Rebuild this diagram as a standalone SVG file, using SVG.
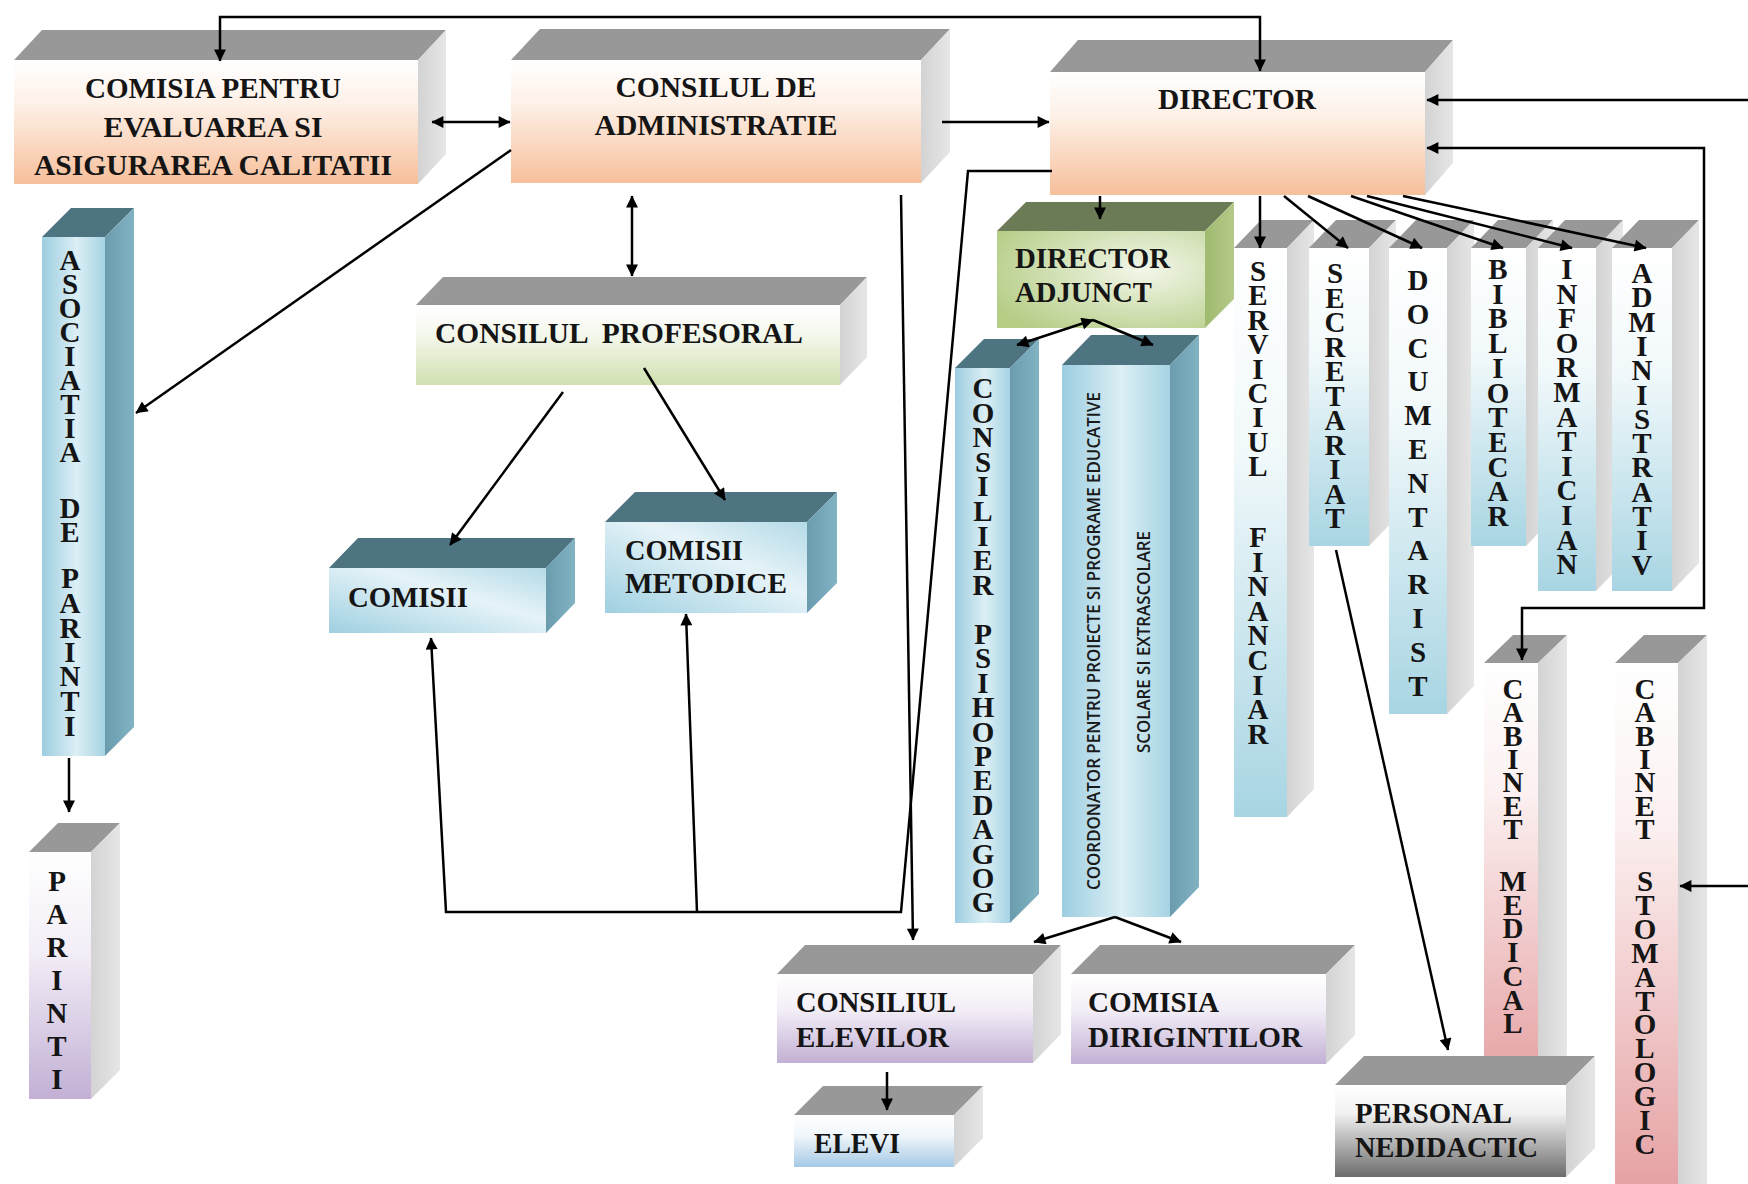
<svg xmlns="http://www.w3.org/2000/svg" width="1748" height="1184" viewBox="0 0 1748 1184">
<defs>
<linearGradient id="gPeach" x1="0" y1="0" x2="0" y2="1"><stop offset="0" stop-color="#ffffff"/><stop offset="0.35" stop-color="#fdf1e8"/><stop offset="1" stop-color="#f7bf9b"/></linearGradient>
<linearGradient id="gSide" x1="0" y1="0" x2="1" y2="0"><stop offset="0" stop-color="#d3d3d3"/><stop offset="1" stop-color="#e6e6e6"/></linearGradient>
<linearGradient id="gBlueCol" x1="0" y1="0" x2="0" y2="1"><stop offset="0" stop-color="#ffffff"/><stop offset="0.35" stop-color="#f2f9fb"/><stop offset="1" stop-color="#a8d5e3"/></linearGradient>
<linearGradient id="gTeal" x1="0" y1="0" x2="1" y2="0"><stop offset="0" stop-color="#9ccde0"/><stop offset="0.55" stop-color="#dcEFF5"/><stop offset="1" stop-color="#a6d3e3"/></linearGradient>
<linearGradient id="gTealBox" x1="0" y1="1" x2="1" y2="0"><stop offset="0" stop-color="#9fd0e1"/><stop offset="0.6" stop-color="#e6f3f8"/><stop offset="1" stop-color="#b4dae7"/></linearGradient>
<linearGradient id="gTealSide" x1="0" y1="0" x2="1" y2="0"><stop offset="0" stop-color="#6a9cae"/><stop offset="1" stop-color="#82b3c3"/></linearGradient>
<linearGradient id="gLav" x1="0" y1="0" x2="0" y2="1"><stop offset="0" stop-color="#ffffff"/><stop offset="0.4" stop-color="#f3eef7"/><stop offset="1" stop-color="#c2b0d5"/></linearGradient>
<linearGradient id="gGreen" x1="0" y1="0" x2="0" y2="1"><stop offset="0" stop-color="#ffffff"/><stop offset="0.4" stop-color="#f3f7ea"/><stop offset="1" stop-color="#d0e0b0"/></linearGradient>
<radialGradient id="gAdj" cx="0.7" cy="0.4" r="0.8"><stop offset="0" stop-color="#f3f7ea"/><stop offset="1" stop-color="#b5cd86"/></radialGradient>
<linearGradient id="gAdjSide" x1="0" y1="0" x2="1" y2="0"><stop offset="0" stop-color="#a0ba70"/><stop offset="1" stop-color="#b4ca88"/></linearGradient>
<linearGradient id="gElevi" x1="0" y1="0" x2="0" y2="1"><stop offset="0" stop-color="#ffffff"/><stop offset="0.4" stop-color="#f0f6fb"/><stop offset="1" stop-color="#a5c9e5"/></linearGradient>
<linearGradient id="gGray" x1="0" y1="0" x2="0" y2="1"><stop offset="0" stop-color="#ffffff"/><stop offset="0.3" stop-color="#f2f2f2"/><stop offset="1" stop-color="#6c6c6c"/></linearGradient>
<linearGradient id="gPink" x1="0" y1="0" x2="0" y2="1"><stop offset="0" stop-color="#ffffff"/><stop offset="0.3" stop-color="#fcf1f1"/><stop offset="1" stop-color="#e6a2a4"/></linearGradient>
<marker id="ah" viewBox="0 0 10 10" refX="9.5" refY="5" markerWidth="16" markerHeight="12" markerUnits="userSpaceOnUse" orient="auto-start-reverse"><path d="M0,0 L10,5 L0,10 z" fill="#000"/></marker>
</defs>
<style>
.top{fill:#989898}
.side{fill:url(#gSide)}
.ttop{fill:#4e7482}
.tside{fill:url(#gTealSide)}
.lbl{font-family:"Liberation Serif","DejaVu Serif",serif;font-weight:bold;font-size:29px;fill:#151515}
.c{text-anchor:middle}
.vl{font-family:"Liberation Serif","DejaVu Serif",serif;font-weight:bold;font-size:29px;fill:#151515;text-anchor:middle}
.sans{font-family:"Open Sans","Noto Sans",sans-serif;font-weight:600;font-size:18px;fill:#1a1a1a;text-anchor:middle}
.conn{stroke:#000;stroke-width:2.5;fill:none}
.arr{marker-end:url(#ah)}
.arr2{marker-start:url(#ah);marker-end:url(#ah)}
</style>
<rect width="1748" height="1184" fill="#ffffff"/>

<g id="comisia-calitate">
<polygon class="top" points="14,60 42,30 446,30 418,60"/>
<polygon class="side" points="418,60 446,30 446,154 418,184"/>
<rect x="14" y="60" width="404" height="124" fill="url(#gPeach)"/>
<text class="lbl c" x="213" y="98" textLength="256" lengthAdjust="spacingAndGlyphs">COMISIA PENTRU</text>
<text class="lbl c" x="213" y="137" textLength="219" lengthAdjust="spacingAndGlyphs">EVALUAREA SI</text>
<text class="lbl c" x="213" y="175" textLength="358" lengthAdjust="spacingAndGlyphs">ASIGURAREA CALITATII</text>
</g>

<g id="consiliul-administratie">
<polygon class="top" points="511,60 540,29 950,29 921,60"/>
<polygon class="side" points="921,60 950,29 950,152 921,183"/>
<rect x="511" y="60" width="410" height="123" fill="url(#gPeach)"/>
<text class="lbl c" x="716" y="97" textLength="201" lengthAdjust="spacingAndGlyphs">CONSILUL DE</text>
<text class="lbl c" x="716" y="135" textLength="243" lengthAdjust="spacingAndGlyphs">ADMINISTRATIE</text>
</g>

<g id="director">
<polygon class="top" points="1050,72 1078,40 1453,40 1425,72"/>
<polygon class="side" points="1425,72 1453,40 1453,163 1425,195"/>
<rect x="1050" y="72" width="375" height="123" fill="url(#gPeach)"/>
<text class="lbl c" x="1237" y="109" textLength="158" lengthAdjust="spacingAndGlyphs">DIRECTOR</text>
</g>

<g id="consiliul-profesoral">
<polygon class="top" points="416,305 443,277 867,277 840,305"/>
<polygon class="side" points="840,305 867,277 867,357 840,385"/>
<rect x="416" y="305" width="424" height="80" fill="url(#gGreen)"/>
<text class="lbl c" x="619" y="343" textLength="368" lengthAdjust="spacingAndGlyphs" xml:space="preserve">CONSILUL  PROFESORAL</text>
</g>

<g id="comisii">
<polygon class="ttop" points="329,568 358,538 575,538 546,568"/>
<polygon class="tside" points="546,568 575,538 575,603 546,633"/>
<rect x="329" y="568" width="217" height="65" fill="url(#gTealBox)"/>
<text class="lbl" x="348" y="607" textLength="120" lengthAdjust="spacingAndGlyphs">COMISII</text>
</g>

<g id="comisii-metodice">
<polygon class="ttop" points="605,522 635,492 837,492 807,522"/>
<polygon class="tside" points="807,522 837,492 837,583 807,613"/>
<rect x="605" y="522" width="202" height="91" fill="url(#gTealBox)"/>
<text class="lbl" x="625" y="560" textLength="118" lengthAdjust="spacingAndGlyphs">COMISII</text>
<text class="lbl" x="625" y="593" textLength="162" lengthAdjust="spacingAndGlyphs">METODICE</text>
</g>

<g id="asociatia-parinti">
<polygon class="ttop" points="42,237 71,208 134,208 105,237"/>
<polygon class="tside" points="105,237 134,208 134,727 105,756"/>
<rect x="42" y="237" width="63" height="519" fill="url(#gTeal)"/>
<text class="vl" x="70 70 70 70 70 70 70 70 70 70 70 70 70 70 70 70 70 70 70 70" y="270 294 318 342 366 390 414 438 462 490 518 542 565 588 613 638 662 686 711 736">ASOCIATIA DE PARINTI</text>
</g>

<g id="parinti">
<polygon class="top" points="29,852 58,823 120,823 91,852"/>
<polygon class="side" points="91,852 120,823 120,1070 91,1099"/>
<rect x="29" y="852" width="62" height="247" fill="url(#gLav)"/>
<text class="vl" x="57 57 57 57 57 57 57" y="891 924 957 990 1023 1056 1089">PARINTI</text>
</g>

<g id="director-adjunct">
<polygon points="997,231 1026,202 1234,202 1205,231" fill="#6b7b55"/>
<polygon points="1205,231 1234,202 1234,299 1205,328" fill="url(#gAdjSide)"/>
<rect x="997" y="231" width="208" height="97" fill="url(#gAdj)"/>
<text class="lbl" x="1015" y="268" textLength="155" lengthAdjust="spacingAndGlyphs">DIRECTOR</text>
<text class="lbl" x="1015" y="302" textLength="137" lengthAdjust="spacingAndGlyphs">ADJUNCT</text>
</g>

<g id="consilier-psihopedagog">
<polygon class="ttop" points="955,368 984,339 1039,339 1010,368"/>
<polygon class="tside" points="1010,368 1039,339 1039,894 1010,923"/>
<rect x="955" y="368" width="55" height="555" fill="url(#gTeal)"/>
<text class="vl" x="983 983 983 983 983 983 983 983 983 983 983 983 983 983 983 983 983 983 983 983 983 983" y="398 423 447 472 496 521 546 570 595 620 644 668 693 717 742 766 790 815 839 864 888 912">CONSILIER PSIHOPEDAGOG</text>
</g>

<g id="coordonator">
<polygon class="ttop" points="1062,365 1091,335 1199,335 1170,365"/>
<polygon class="tside" points="1170,365 1199,335 1199,887 1170,917"/>
<rect x="1062" y="365" width="108" height="552" fill="url(#gTeal)"/>
<text class="sans" transform="translate(1100,641) rotate(-90)" x="0" y="0" textLength="498" lengthAdjust="spacingAndGlyphs">COORDONATOR PENTRU PROIECTE SI PROGRAME EDUCATIVE</text>
<text class="sans" transform="translate(1150,642) rotate(-90)" x="0" y="0" textLength="222" lengthAdjust="spacingAndGlyphs">SCOLARE SI EXTRASCOLARE</text>
</g>

<g id="serviciul-financiar">
<polygon class="top" points="1234,248 1261,220 1314,220 1287,248"/>
<polygon class="side" points="1287,248 1314,220 1314,789 1287,817"/>
<rect x="1234" y="248" width="53" height="569" fill="url(#gBlueCol)"/>
<text class="vl" x="1258 1258 1258 1258 1258 1258 1258 1258 1258 1258 1258 1258 1258 1258 1258 1258 1258 1258 1258" y="281 305 330 354 379 403 427 452 476 510 547 572 596 621 645 670 695 719 744">SERVICIUL FINANCIAR</text>
</g>

<g id="secretariat">
<polygon class="top" points="1309,248 1336,220 1396,220 1369,248"/>
<polygon class="side" points="1369,248 1396,220 1396,518 1369,546"/>
<rect x="1309" y="248" width="60" height="298" fill="url(#gBlueCol)"/>
<text class="vl" x="1335 1335 1335 1335 1335 1335 1335 1335 1335 1335 1335" y="283 308 332 357 381 406 430 455 479 504 528">SECRETARIAT</text>
</g>

<g id="documentarist">
<polygon class="top" points="1389,248 1416,220 1474,220 1447,248"/>
<polygon class="side" points="1447,248 1474,220 1474,686 1447,714"/>
<rect x="1389" y="248" width="58" height="466" fill="url(#gBlueCol)"/>
<text class="vl" x="1418 1418 1418 1418 1418 1418 1418 1418 1418 1418 1418 1418 1418" y="290 324 358 391 425 459 493 527 560 594 628 662 696">DOCUMENTARIST</text>
</g>

<g id="bibliotecar">
<polygon class="top" points="1471,248 1498,220 1553,220 1526,248"/>
<polygon class="side" points="1526,248 1553,220 1553,518 1526,546"/>
<rect x="1471" y="248" width="55" height="298" fill="url(#gBlueCol)"/>
<text class="vl" x="1498 1498 1498 1498 1498 1498 1498 1498 1498 1498 1498" y="279 304 328 353 378 403 427 452 477 501 526">BIBLIOTECAR</text>
</g>

<g id="informatician">
<polygon class="top" points="1538,248 1565,220 1623,220 1596,248"/>
<polygon class="side" points="1596,248 1623,220 1623,563 1596,591"/>
<rect x="1538" y="248" width="58" height="343" fill="url(#gBlueCol)"/>
<text class="vl" x="1567 1567 1567 1567 1567 1567 1567 1567 1567 1567 1567 1567 1567" y="279 304 328 353 377 402 427 451 476 500 525 550 574">INFORMATICIAN</text>
</g>

<g id="administrativ">
<polygon class="top" points="1612,248 1639,220 1699,220 1672,248"/>
<polygon class="side" points="1672,248 1699,220 1699,563 1672,591"/>
<rect x="1612" y="248" width="60" height="343" fill="url(#gBlueCol)"/>
<text class="vl" x="1642 1642 1642 1642 1642 1642 1642 1642 1642 1642 1642 1642 1642" y="283 307 332 356 380 405 429 453 477 502 526 550 575">ADMINISTRATIV</text>
</g>

<g id="cabinet-medical">
<polygon class="top" points="1484,663 1513,635 1567,635 1538,663"/>
<polygon class="side" points="1538,663 1567,635 1567,1055 1538,1083"/>
<rect x="1484" y="663" width="54" height="420" fill="url(#gPink)"/>
<text class="vl" x="1513 1513 1513 1513 1513 1513 1513 1513 1513 1513 1513 1513 1513 1513 1513" y="699 722 746 769 792 816 839 865 891 915 938 962 986 1010 1033">CABINET MEDICAL</text>
</g>

<g id="cabinet-stomatologic">
<polygon class="top" points="1615,663 1644,635 1707,635 1678,663"/>
<polygon class="side" points="1678,663 1707,635 1707,1184 1678,1184"/>
<rect x="1615" y="663" width="63" height="521" fill="url(#gPink)"/>
<text class="vl" x="1645 1645 1645 1645 1645 1645 1645 1645 1645 1645 1645 1645 1645 1645 1645 1645 1645 1645 1645 1645" y="699 722 746 769 792 816 839 865 891 915 939 963 987 1011 1034 1058 1082 1106 1130 1154">CABINET STOMATOLOGIC</text>
</g>

<g id="consiliul-elevilor">
<polygon class="top" points="777,974 805,945 1061,945 1033,974"/>
<polygon class="side" points="1033,974 1061,945 1061,1034 1033,1063"/>
<rect x="777" y="974" width="256" height="89" fill="url(#gLav)"/>
<text class="lbl" x="796" y="1012" textLength="160" lengthAdjust="spacingAndGlyphs">CONSILIUL</text>
<text class="lbl" x="796" y="1047" textLength="153" lengthAdjust="spacingAndGlyphs">ELEVILOR</text>
</g>

<g id="comisia-dirigintilor">
<polygon class="top" points="1071,974 1100,945 1355,945 1326,974"/>
<polygon class="side" points="1326,974 1355,945 1355,1035 1326,1064"/>
<rect x="1071" y="974" width="255" height="90" fill="url(#gLav)"/>
<text class="lbl" x="1088" y="1012" textLength="131" lengthAdjust="spacingAndGlyphs">COMISIA</text>
<text class="lbl" x="1088" y="1047" textLength="214" lengthAdjust="spacingAndGlyphs">DIRIGINTILOR</text>
</g>

<g id="elevi">
<polygon class="top" points="794,1115 823,1086 983,1086 954,1115"/>
<polygon class="side" points="954,1115 983,1086 983,1138 954,1167"/>
<rect x="794" y="1115" width="160" height="52" fill="url(#gElevi)"/>
<text class="lbl" x="814" y="1153" textLength="86" lengthAdjust="spacingAndGlyphs">ELEVI</text>
</g>

<g id="personal-nedidactic">
<polygon class="top" points="1335,1085 1364,1056 1595,1056 1566,1085"/>
<polygon class="side" points="1566,1085 1595,1056 1595,1148 1566,1177"/>
<rect x="1335" y="1085" width="231" height="92" fill="url(#gGray)"/>
<text class="lbl" x="1355" y="1123" textLength="157" lengthAdjust="spacingAndGlyphs">PERSONAL</text>
<text class="lbl" x="1355" y="1157" textLength="183" lengthAdjust="spacingAndGlyphs">NEDIDACTIC</text>
</g>

<g id="connectors">
<path class="conn arr2" d="M220,61 L220,17 L1260,17 L1260,71"/>
<path class="conn arr2" d="M432,122 L510,122"/>
<path class="conn arr" d="M942,122 L1049,122"/>
<path class="conn arr" d="M511,150 L136,413"/>
<path class="conn arr2" d="M632,196 L632,276"/>
<path class="conn arr" d="M563,392 L450,545"/>
<path class="conn arr" d="M644,368 L725,500"/>
<path class="conn arr" d="M901,195 L913,940"/>
<path class="conn arr" d="M1052,171 L968,171 L901,912 L446,912 L431,638"/>
<path class="conn arr" d="M697,912 L686,614"/>
<path class="conn arr" d="M1100,196 L1100,219"/>
<path class="conn arr" d="M1260,196 L1260,248"/>
<path class="conn arr" d="M1284,196 L1348,248"/>
<path class="conn arr" d="M1308,196 L1422,248"/>
<path class="conn arr" d="M1351,196 L1503,248"/>
<path class="conn arr" d="M1367,196 L1572,248"/>
<path class="conn arr" d="M1403,196 L1646,248"/>
<path class="conn arr2" d="M1017,345 L1093,320"/>
<path class="conn arr" d="M1093,320 L1153,345"/>
<path class="conn arr" d="M1115,917 L1034,942"/>
<path class="conn arr" d="M1115,917 L1181,942"/>
<path class="conn arr" d="M887,1072 L887,1110"/>
<path class="conn arr" d="M69,758 L69,812"/>
<path class="conn arr" d="M1336,550 L1448,1050"/>
<path class="conn arr" d="M1748,100 L1427,100"/>
<path class="conn arr2" d="M1427,148 L1704,148 L1704,608 L1522,608 L1522,660"/>
<path class="conn arr" d="M1748,886 L1680,886"/>
</g>
</svg>
